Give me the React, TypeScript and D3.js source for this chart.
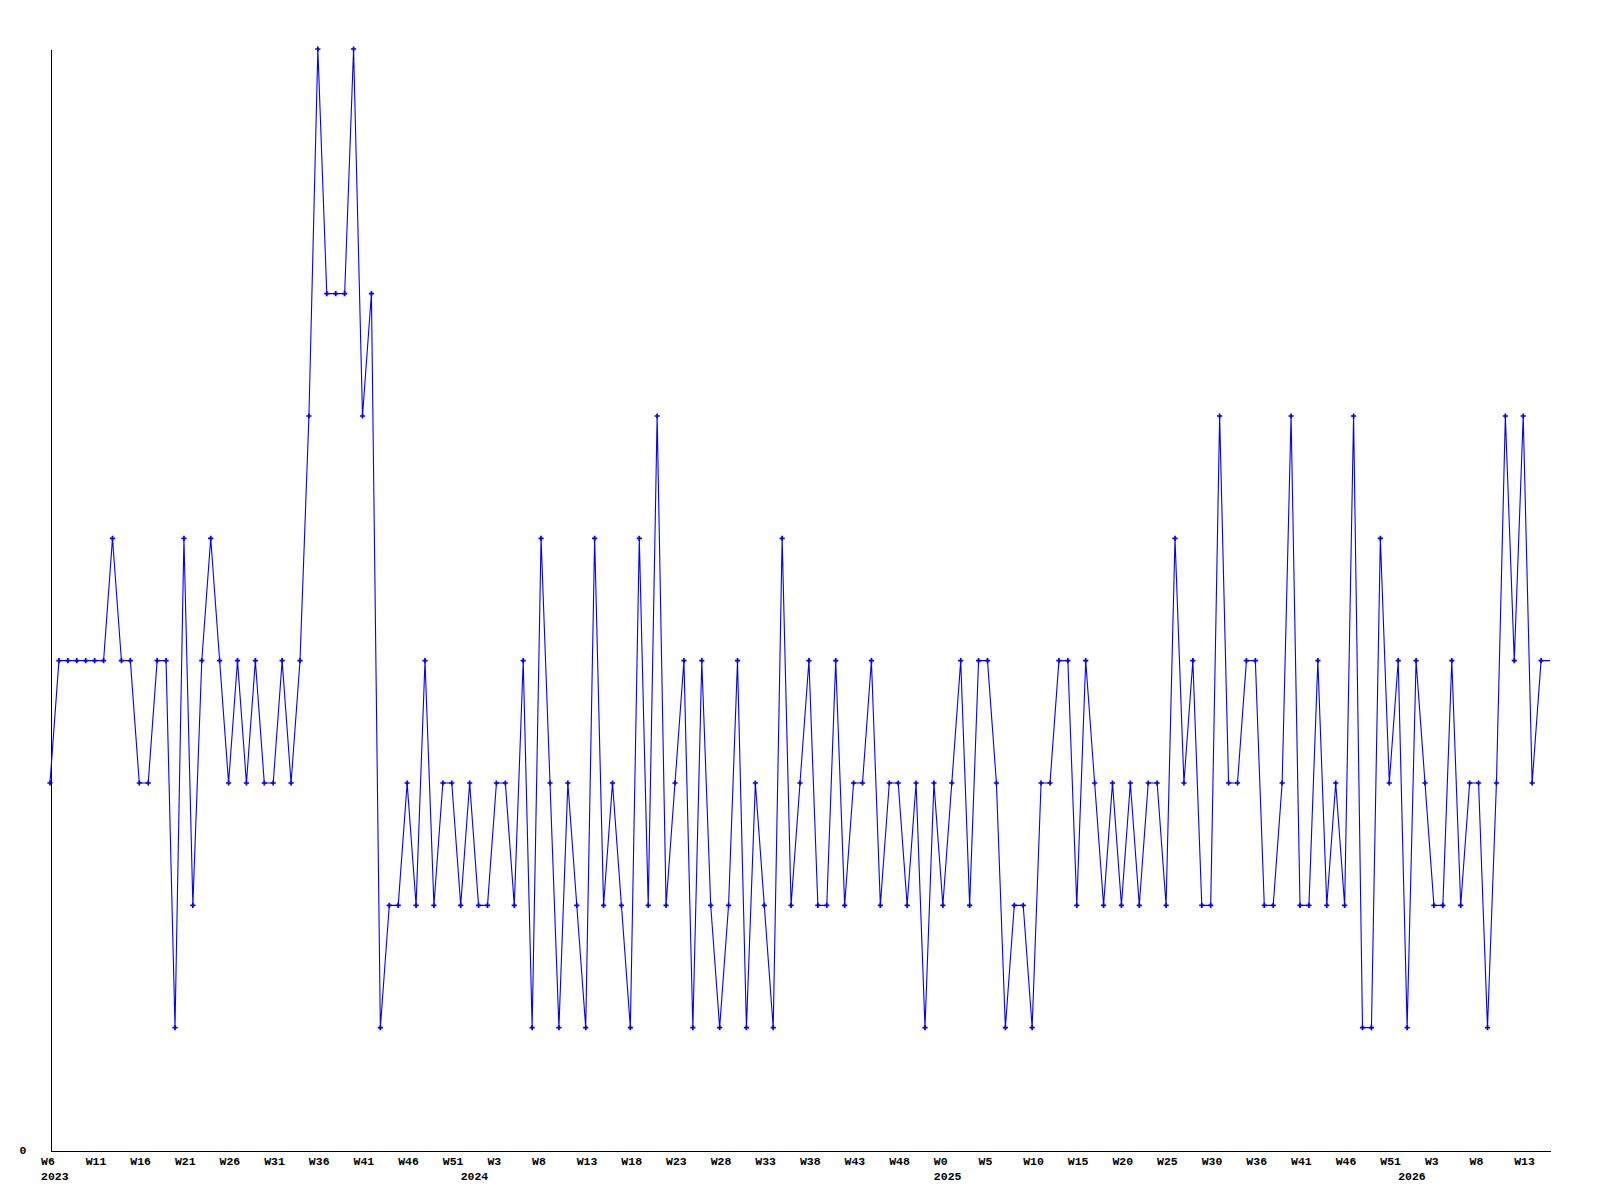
import React, { useEffect, useRef } from "react";
import * as d3 from "d3";

// weekly counts, one per week from 2023 W6 (last entry is the open current week, no marker)
const values = [
  3, 4, 4, 4, 4, 4, 4, 5, 4, 4, 3, 3, 4, 4, 1, 5, 2, 4, 5, 4,
  3, 4, 3, 4, 3, 3, 4, 3, 4, 6, 9, 7, 7, 7, 9, 6, 7, 1, 2, 2,
  3, 2, 4, 2, 3, 3, 2, 3, 2, 2, 3, 3, 2, 4, 1, 5, 3, 1, 3, 2,
  1, 5, 2, 3, 2, 1, 5, 2, 6, 2, 3, 4, 1, 4, 2, 1, 2, 4, 1, 3,
  2, 1, 5, 2, 3, 4, 2, 2, 4, 2, 3, 3, 4, 2, 3, 3, 2, 3, 1, 3,
  2, 3, 4, 2, 4, 4, 3, 1, 2, 2, 1, 3, 3, 4, 4, 2, 4, 3, 2, 3,
  2, 3, 2, 3, 3, 2, 5, 3, 4, 2, 2, 6, 3, 3, 4, 4, 2, 2, 3, 6,
  2, 2, 4, 2, 3, 2, 6, 1, 1, 5, 3, 4, 1, 4, 3, 2, 2, 4, 2, 3,
  3, 1, 3, 6, 4, 6, 3, 4, 4,
];

const weekTicks = d3.range(0, 166, 5);
const weekLabels = [
  "W6", "W11", "W16", "W21", "W26", "W31", "W36", "W41", "W46", "W51",
  "W3", "W8", "W13", "W18", "W23", "W28", "W33", "W38", "W43", "W48",
  "W0", "W5", "W10", "W15", "W20", "W25", "W30", "W36", "W41", "W46", "W51",
  "W3", "W8", "W13",
];
const yearTicks = [0, 47, 100, 152];
const yearLabels = ["2023", "2024", "2025", "2026"];

const yMax = 9;

export default function App() {
  const ref = useRef<SVGSVGElement>(null);

  useEffect(() => {
    const svg = d3.select(ref.current);
    svg.selectAll("*").remove();

    const x = d3.scaleLinear().domain([0, values.length - 1]).range([50, 1550]);
    const y = d3.scaleLinear().domain([0, yMax]).range([1150, 49]);
    const font = "'Liberation Mono', 'DejaVu Sans Mono', monospace";

    const styleText = (sel: any) =>
      sel
        .attr("fill", "#000")
        .style("font-family", font)
        .style("font-size", "11.5px")
        .style("font-weight", "bold");

    // week labels
    const xAxis = svg
      .append("g")
      .attr("transform", "translate(0.5, 1150.5)")
      .call(
        d3
          .axisBottom(x)
          .tickValues(weekTicks)
          .tickFormat((_, i) => weekLabels[i])
          .tickSize(0)
          .tickSizeOuter(0)
      );
    xAxis.select(".domain").attr("stroke", "#000").attr("shape-rendering", "crispEdges");
    styleText(xAxis.selectAll("text").attr("text-anchor", "start").attr("x", -10).attr("y", 14).attr("dy", null));

    // year labels
    const yearAxis = svg
      .append("g")
      .attr("transform", "translate(0.5, 1150.5)")
      .call(
        d3
          .axisBottom(x)
          .tickValues(yearTicks)
          .tickFormat((_, i) => yearLabels[i])
          .tickSize(0)
          .tickSizeOuter(0)
      );
    yearAxis.select(".domain").remove();
    styleText(yearAxis.selectAll("text").attr("text-anchor", "start").attr("x", -10).attr("y", 29).attr("dy", null));

    // y axis, only the zero label
    const yAxis = svg
      .append("g")
      .attr("transform", "translate(50.5, 0.5)")
      .call(d3.axisLeft(y).tickValues([0]).tickFormat(d3.format("d")).tickSize(0).tickSizeOuter(0));
    yAxis.select(".domain").attr("stroke", "#000").attr("shape-rendering", "crispEdges");
    styleText(yAxis.selectAll("text").attr("text-anchor", "start").attr("x", -31).attr("y", 3).attr("dy", null));

    const line = d3
      .line<number>()
      .x((_, i) => x(i))
      .y((d) => y(d));

    svg
      .append("path")
      .datum(values)
      .attr("d", line)
      .attr("fill", "none")
      .attr("stroke", "#0000ff")
      .attr("stroke-width", 1.1);

    const marker = d3.symbol().type(d3.symbolCross).size(15);
    svg
      .append("g")
      .selectAll("path")
      .data(values.slice(0, -1))
      .enter()
      .append("path")
      .attr("d", marker)
      .attr("transform", (d, i) => `translate(${x(i)}, ${y(d)})`)
      .attr("fill", "#0000ff");
  }, []);

  return (
    <svg
      ref={ref}
      width={1600}
      height={1200}
      style={{ position: "absolute", left: 0, top: 0, background: "#fff" }}
    />
  );
}
